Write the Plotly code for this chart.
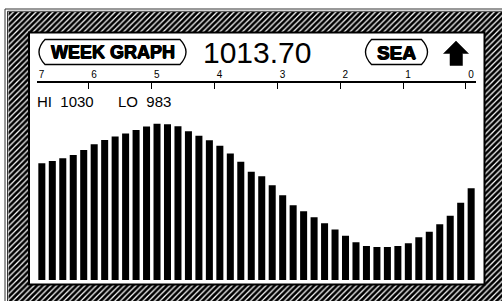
import plotly.graph_objects as go

W, H = 502, 301

# ---- data ----
hours_ago = list(range(164, -1, -4))  # 42 readings, one every 4 hours
pressure = [1014.9, 1015.8, 1016.8, 1018.1, 1020.0, 1022.2, 1023.8, 1025.1, 1026.3, 1027.6,
            1028.9, 1030.0, 1029.8, 1029.0, 1027.1, 1025.4, 1023.7, 1021.6, 1018.6, 1015.5,
            1011.7, 1010.0, 1006.5, 1002.7, 998.9, 996.6, 994.3, 992.0, 989.7, 987.3,
            984.8, 983.4, 983.0, 983.0, 983.4, 984.4, 986.7, 988.8, 991.7, 994.9,
            999.9, 1005.4]
day_labels = [7, 6, 5, 4, 3, 2, 1, 0]
current_pressure = 1013.70
title_text = "WEEK GRAPH"
location_text = "SEA"

# ---- helpers (pixel -> paper) ----
def px(x):
    return x / W

def py(y):
    return 1 - y / H

def path(points, close=True):
    s = "M " + " L ".join(f"{px(a):.5f},{py(b):.5f}" for a, b in points)
    return s + (" Z" if close else "")

def pill(x0, x1, y0, y1, r):
    ym = (y0 + y1) / 2
    P = lambda a, b: f"{px(a):.5f},{py(b):.5f}"
    return (f"M {P(x0 + r, y0)} L {P(x1 - r, y0)} Q {P(x1 + r, ym)} {P(x1 - r, y1)} "
            f"L {P(x0 + r, y1)} Q {P(x0 - r, ym)} {P(x0 + r, y0)} Z")

x_days = [-h / 24 for h in hours_ago]
slot = 4 / 24
x_left = x_days[0] - slot / 2
x_right = x_days[-1] + slot / 2
tickvals = [max(-d - slot / 2, x_left) for d in day_labels] + [x_right]
ticktext = [str(d) for d in day_labels] + [""]

fig = go.Figure()

fig.add_trace(go.Bar(
    x=x_days, y=pressure, marker=dict(color="black", line=dict(width=0)),
    xaxis="x", yaxis="y", hoverinfo="skip", showlegend=False,
))

# hatched frame (polygon with a hole), drawn on a full-figure pixel axis
fx = [8.5, 503, 503, 8.5, 8.5, 29, 29, 484.5, 484.5, 29, 8.5]
fy = [12, 12, 302, 302, 12, 32.5, 284.5, 284.5, 32.5, 32.5, 12]
fig.add_trace(go.Scatter(
    x=fx, y=fy, mode="lines", fill="toself", line=dict(width=0),
    fillcolor="white",
    fillpattern=dict(shape="/", fgcolor="black", bgcolor="white", fgopacity=1,
                     size=4, solidity=0.7),
    xaxis="x2", yaxis="y2", hoverinfo="skip", showlegend=False,
))

shapes = [
    # inner white panel
    dict(type="rect", xref="paper", yref="paper", x0=px(29), x1=px(484.5), y0=py(284.5), y1=py(32.5),
         fillcolor="white", line=dict(width=0), layer="below"),
    dict(type="rect", xref="paper", yref="paper", x0=px(29), x1=px(484.5), y0=py(284.5), y1=py(32.5),
         fillcolor="rgba(0,0,0,0)", line=dict(color="black", width=2), layer="above"),
    # outer double frame lines
    dict(type="line", xref="paper", yref="paper", x0=px(5), x1=px(5), y0=py(9), y1=py(301),
         line=dict(color="#333", width=1)),
    dict(type="line", xref="paper", yref="paper", x0=px(7.5), x1=px(7.5), y0=py(11.3), y1=py(301),
         line=dict(color="#333", width=1)),
    dict(type="line", xref="paper", yref="paper", x0=px(5), x1=px(502), y0=py(9), y1=py(9),
         line=dict(color="#333", width=1)),
    dict(type="line", xref="paper", yref="paper", x0=px(7.5), x1=px(502), y0=py(11.3), y1=py(11.3),
         line=dict(color="#333", width=1)),
    # pills
    dict(type="path", xref="paper", yref="paper", path=pill(39, 186, 39.5, 64.5, 6),
         line=dict(color="black", width=1.3), fillcolor="white", layer="above"),
    dict(type="path", xref="paper", yref="paper", path=pill(365.5, 427.5, 39.5, 64.5, 6),
         line=dict(color="black", width=1.3), fillcolor="white", layer="above"),
    # arrow
    dict(type="path", xref="paper", yref="paper",
         path=path([(456, 41), (443.5, 53.5), (450, 53.5), (450, 65.5), (462.5, 65.5),
                    (462.5, 53.5), (468.5, 53.5)]),
         line=dict(color="black", width=0.5), fillcolor="black", layer="above"),
]

hi = max(pressure)
lo = min(pressure)
nb = "\u00a0"
heavy = "0.6px 0 0 #000, -0.6px 0 0 #000, 0 0.5px 0 #000"
annotations = [
    dict(text=f"<b>{title_text}</b>", x=px(112.5), y=py(52.5), xref="paper", yref="paper",
         showarrow=False, xanchor="center", yanchor="middle",
         font=dict(family="Liberation Sans, Arial", size=18, color="black", shadow=heavy)),
    dict(text=f"{current_pressure:.2f}", x=px(201), y=py(52.5), xref="paper", yref="paper",
         showarrow=False, xanchor="left", yanchor="middle",
         font=dict(family="Liberation Sans, Arial", size=30, color="black")),
    dict(text=f"<b>{location_text}</b>", x=px(396.5), y=py(52.5), xref="paper", yref="paper",
         showarrow=False, xanchor="center", yanchor="middle",
         font=dict(family="Liberation Sans, Arial", size=19, color="black", shadow=heavy)),
    dict(text=f"HI{nb}{nb}{hi:.0f}", x=px(35), y=py(101), xref="paper", yref="paper",
         showarrow=False, xanchor="left", yanchor="middle",
         font=dict(family="Liberation Sans, Arial", size=15, color="black")),
    dict(text=f"LO{nb}{nb}{lo:.0f}", x=px(116), y=py(101), xref="paper", yref="paper",
         showarrow=False, xanchor="left", yanchor="middle",
         font=dict(family="Liberation Sans, Arial", size=15, color="black")),
]

fig.update_layout(
    width=W, height=H, margin=dict(l=0, r=0, t=0, b=0, pad=0),
    paper_bgcolor="white", plot_bgcolor="rgba(0,0,0,0)",
    bargap=0.33, showlegend=False,
    xaxis=dict(domain=[px(36.6), px(476.4)], range=[x_left, x_right], side="top", anchor="y",
               showline=True, linecolor="black", linewidth=1.5,
               ticks="inside", ticklen=6, tickwidth=1, tickcolor="black",
               tickmode="array", tickvals=tickvals, ticktext=ticktext, ticklabelshift=5,
               tickfont=dict(family="Liberation Sans, Arial", size=10, color="black"),
               showgrid=False, zeroline=False, fixedrange=True),
    yaxis=dict(domain=[py(280), py(83.3)], range=[970.4, 1045.4], visible=False,
               showgrid=False, zeroline=False, fixedrange=True, anchor="x"),
    xaxis2=dict(domain=[0, 1], range=[0, W], visible=False, anchor="y2", fixedrange=True,
                showgrid=False, zeroline=False),
    yaxis2=dict(domain=[0, 1], range=[H, 0], visible=False, anchor="x2", fixedrange=True,
                showgrid=False, zeroline=False),
    shapes=shapes, annotations=annotations,
)

fig.write_html("out.html", config={"displayModeBar": False},
               post_script="document.body.style.margin='0';document.body.style.overflow='hidden';")
